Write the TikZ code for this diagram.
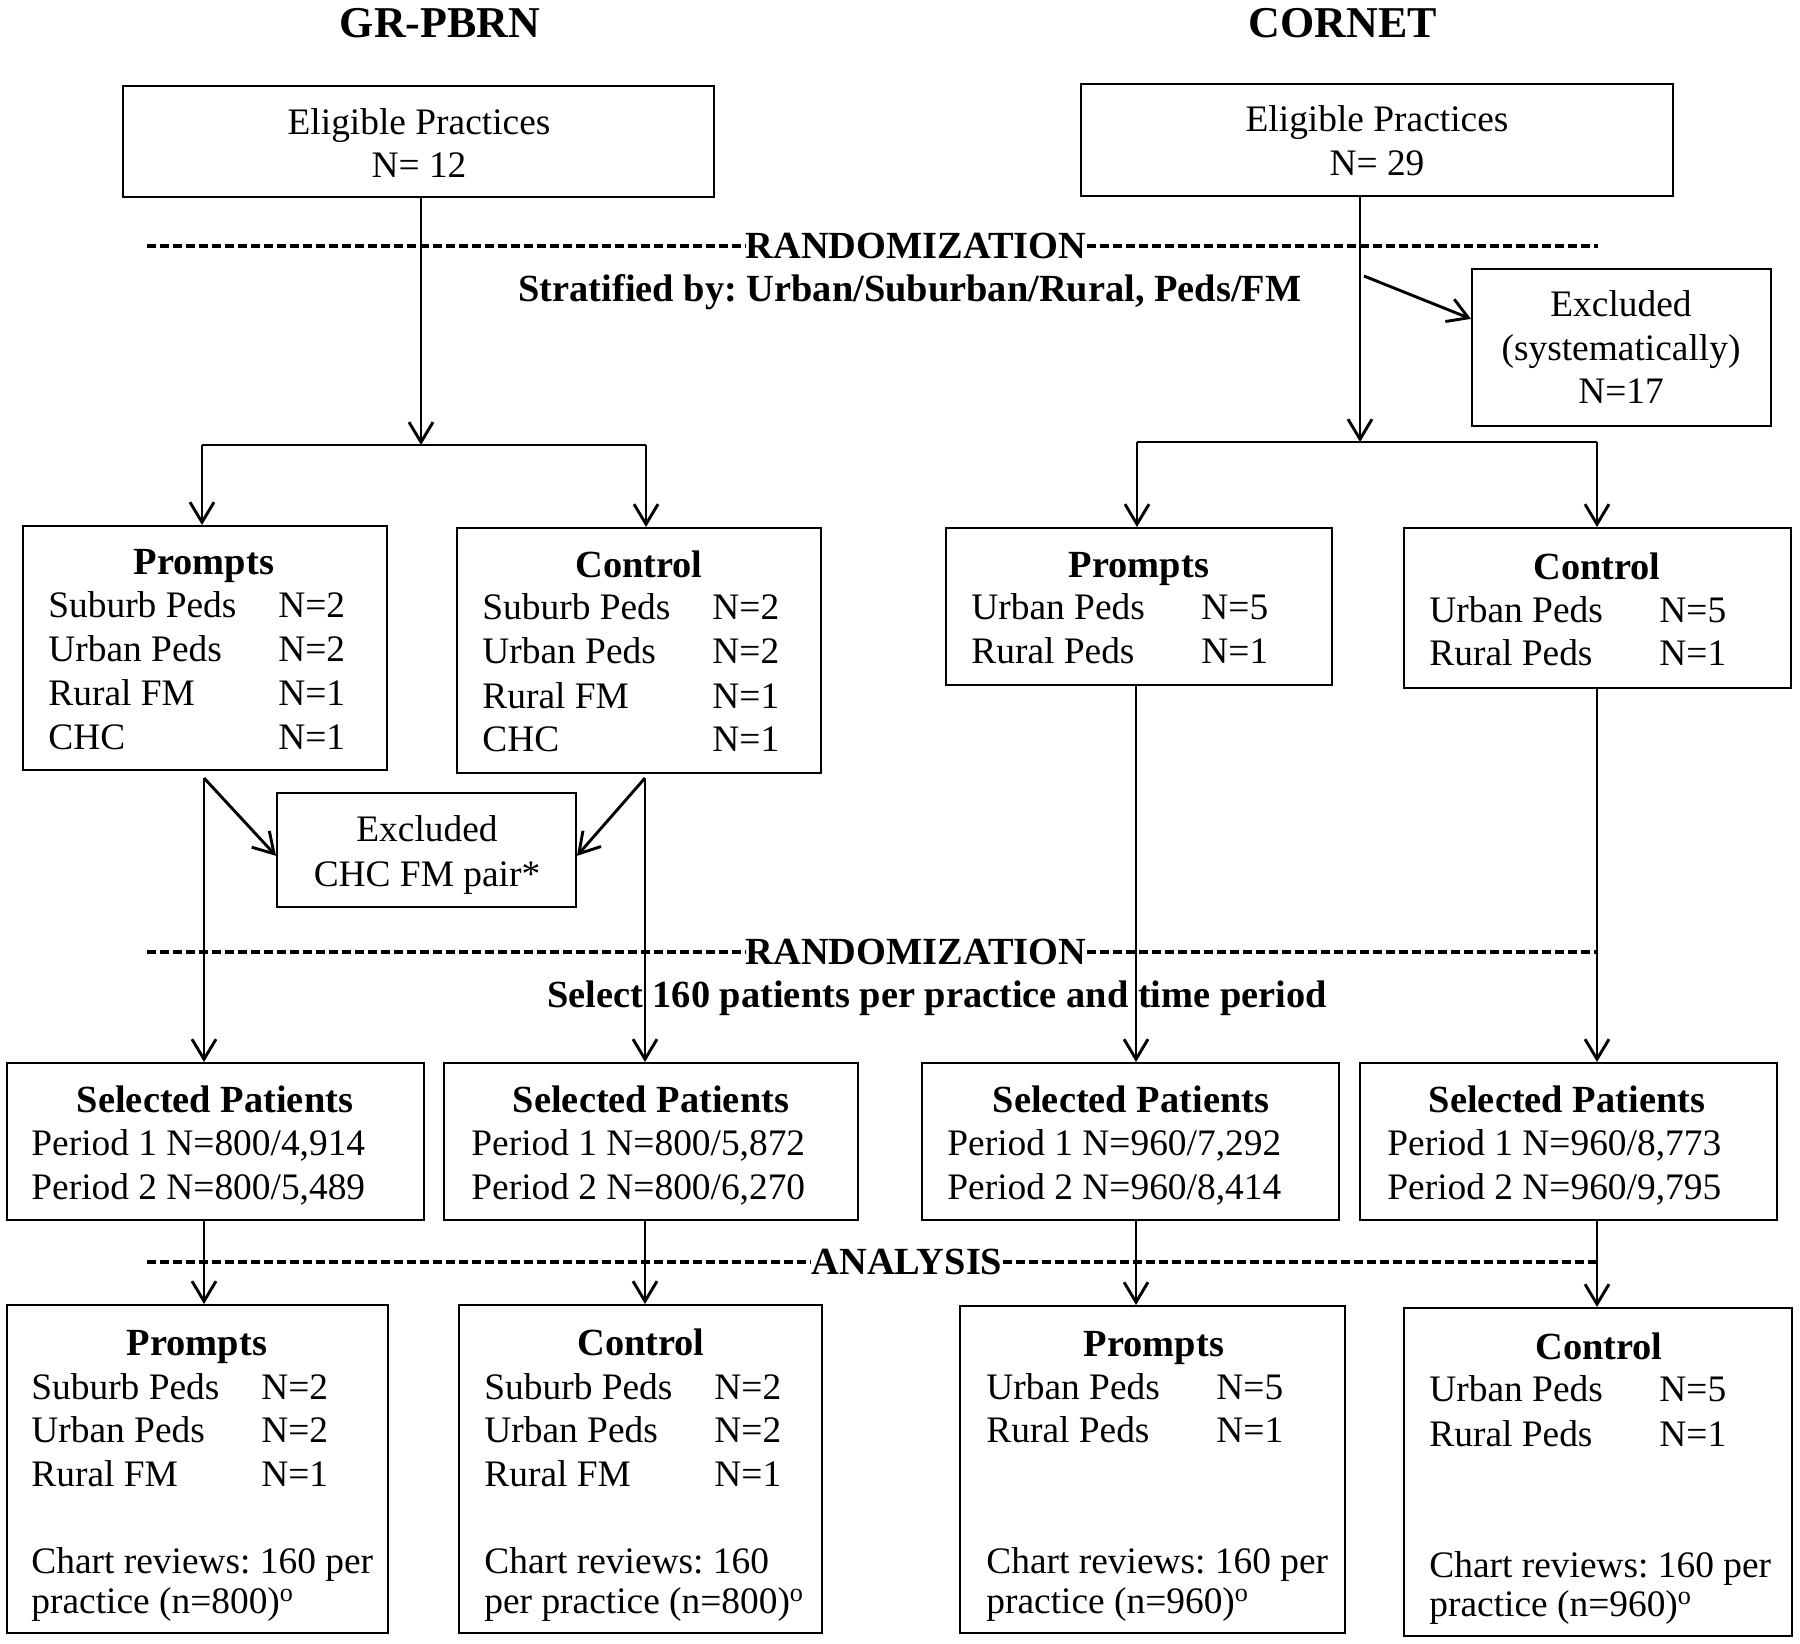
\documentclass[tikz,border=0pt]{standalone}
\usepackage{fontspec}
\setmainfont{Liberation Serif}
\usetikzlibrary{arrows.meta,fit,calc}
\frenchspacing
\begin{document}
\begin{tikzpicture}[x=0.5pt,y=-0.5pt,
  box/.style={draw, line width=1pt, inner sep=0pt},
  conn/.style={line width=1.45pt},
  arr/.style={conn, -{Straight Barb[length=10pt,width=12pt,line width=1.45pt]}},
  dl/.style={line width=1.6pt, dash pattern=on 4.5pt off 2pt},
  txt/.style={font=\fontsize{18.7pt}{22pt}\selectfont, inner sep=0pt, anchor=base, yshift=-6.3pt},
  ltxt/.style={txt, anchor=base west},
  btxt/.style={txt, font=\fontsize{19.2pt}{22pt}\selectfont\bfseries},
  ttl/.style={font=\fontsize{22pt}{26pt}\selectfont\bfseries, inner sep=0pt, anchor=base, yshift=-7.3pt},
]
\fill[white] (0,0) rectangle (1800,1644);
\useasboundingbox (0,0) rectangle (1800,1644);

% titles
\node[ttl] (t1) at (440,23) {GR-PBRN};
\node[ttl] (t2) at (1343,23) {CORNET};

% eligible
\node[box, fit={(123,86) (714,197)}] (e1) {};
\node[txt] (e1a) at (419,122) {Eligible Practices};
\node[txt] (e1b) at (419,165) {N= 12};
\node[box, fit={(1081,84) (1673,196)}] (e2) {};
\node[txt] (e2a) at (1377,119) {Eligible Practices};
\node[txt] (e2b) at (1377,163) {N= 29};

% randomization 1
\coordinate (d1a) at (147,246);
\coordinate (d1b) at (1598,246);
\node[btxt] (r1) at (916,246) {RANDOMIZATION};
\draw[dl] (d1a) -- (d1a -| r1.west);
\draw[dl] (d1b -| r1.east) -- (d1b);
\node[btxt] (s1t) at (910,289) {Stratified by: Urban/Suburban/Rural, Peds/FM};

% excluded systematically
\node[box, fit={(1472,269) (1771,426)}] (ex1) {};
\node[txt] (ex1a) at (1621,304) {Excluded};
\node[txt] (ex1b) at (1621,348) {(systematically)};
\node[txt] (ex1c) at (1621,391) {N=17};

% arm boxes
\node[box, fit={(23,526) (387,770)}] (p1) {};
\node[btxt] (p1h) at (204,562) {Prompts};
\node[ltxt] (p1a) at (48,605) {Suburb Peds};
\node[ltxt] (p1b) at (48,649) {Urban Peds};
\node[ltxt] (p1c) at (48,693) {Rural FM};
\node[ltxt] (p1d) at (48,737) {CHC};
\node[ltxt] (p1an) at (278,605) {N=2};
\node[ltxt] (p1bn) at (278,649) {N=2};
\node[ltxt] (p1cn) at (278,693) {N=1};
\node[ltxt] (p1dn) at (278,737) {N=1};

\node[box, fit={(457,528) (821,773)}] (c1) {};
\node[btxt] (c1h) at (639,565) {Control};
\node[ltxt] (c1a) at (482,607) {Suburb Peds};
\node[ltxt] (c1b) at (482,651) {Urban Peds};
\node[ltxt] (c1c) at (482,696) {Rural FM};
\node[ltxt] (c1d) at (482,739) {CHC};
\node[ltxt] (c1an) at (712,607) {N=2};
\node[ltxt] (c1bn) at (712,651) {N=2};
\node[ltxt] (c1cn) at (712,696) {N=1};
\node[ltxt] (c1dn) at (712,739) {N=1};

\node[box, fit={(946,528) (1332,685)}] (p2) {};
\node[btxt] (p2h) at (1139,565) {Prompts};
\node[ltxt] (p2a) at (971,607) {Urban Peds};
\node[ltxt] (p2b) at (971,651) {Rural Peds};
\node[ltxt] (p2an) at (1201,607) {N=5};
\node[ltxt] (p2bn) at (1201,651) {N=1};

\node[box, fit={(1404,528) (1791,688)}] (c2) {};
\node[btxt] (c2h) at (1597,567) {Control};
\node[ltxt] (c2a) at (1429,610) {Urban Peds};
\node[ltxt] (c2b) at (1429,653) {Rural Peds};
\node[ltxt] (c2an) at (1659,610) {N=5};
\node[ltxt] (c2bn) at (1659,653) {N=1};

% excluded CHC
\node[box, fit={(277,793) (576,907)}] (x2) {};
\node[txt] (x2a) at (427,829) {Excluded};
\node[txt] (x2b) at (427,874) {CHC FM pair*};

% randomization 2
\coordinate (d2a) at (147,952);
\coordinate (d2b) at (1596,952);
\node[btxt] (r2) at (916,952) {RANDOMIZATION};
\draw[dl] (d2a) -- (d2a -| r2.west);
\draw[dl] (d2b -| r2.east) -- (d2b);
\node[btxt] (s2t) at (937,995) {Select 160 patients per practice and time period};

% selected patients
\node[box, fit={(7,1063) (424,1220)}] (s1) {};
\node[btxt] (s1h) at (215,1100) {Selected Patients};
\node[ltxt] (s1a) at (31,1143) {Period 1 N=800/4,914};
\node[ltxt] (s1b) at (31,1187) {Period 2 N=800/5,489};

\node[box, fit={(444,1063) (858,1220)}] (s2) {};
\node[btxt] (s2h) at (651,1100) {Selected Patients};
\node[ltxt] (s2a) at (471,1143) {Period 1 N=800/5,872};
\node[ltxt] (s2b) at (471,1187) {Period 2 N=800/6,270};

\node[box, fit={(922,1063) (1339,1220)}] (s3) {};
\node[btxt] (s3h) at (1131,1100) {Selected Patients};
\node[ltxt] (s3a) at (947,1143) {Period 1 N=960/7,292};
\node[ltxt] (s3b) at (947,1187) {Period 2 N=960/8,414};

\node[box, fit={(1360,1063) (1777,1220)}] (s4) {};
\node[btxt] (s4h) at (1567,1100) {Selected Patients};
\node[ltxt] (s4a) at (1387,1143) {Period 1 N=960/8,773};
\node[ltxt] (s4b) at (1387,1187) {Period 2 N=960/9,795};

% analysis line
\coordinate (d3a) at (147,1262);
\coordinate (d3b) at (1597,1262);
\node[btxt] (r3) at (907,1262) {ANALYSIS};
\draw[dl] (d3a) -- (d3a -| r3.west);
\draw[dl] (d3b -| r3.east) -- (d3b);

% analysis boxes
\node[box, fit={(7,1305) (388,1633)}] (a1) {};
\node[btxt] (a1h) at (197,1343) {Prompts};
\node[ltxt] (a1a) at (31,1387) {Suburb Peds};
\node[ltxt] (a1b) at (31,1430) {Urban Peds};
\node[ltxt] (a1c) at (31,1474) {Rural FM};
\node[ltxt] (a1an) at (261,1387) {N=2};
\node[ltxt] (a1bn) at (261,1430) {N=2};
\node[ltxt] (a1cn) at (261,1474) {N=1};
\node[ltxt] (a1d) at (31,1561) {Chart reviews: 160 per};
\node[ltxt] (a1e) at (31,1601) {practice (n=800)\textsuperscript{o}};

\node[box, fit={(459,1305) (822,1633)}] (a2) {};
\node[btxt] (a2h) at (641,1343) {Control};
\node[ltxt] (a2a) at (484,1387) {Suburb Peds};
\node[ltxt] (a2b) at (484,1430) {Urban Peds};
\node[ltxt] (a2c) at (484,1474) {Rural FM};
\node[ltxt] (a2an) at (714,1387) {N=2};
\node[ltxt] (a2bn) at (714,1430) {N=2};
\node[ltxt] (a2cn) at (714,1474) {N=1};
\node[ltxt] (a2d) at (484,1561) {Chart reviews: 160};
\node[ltxt] (a2e) at (484,1601) {per practice (n=800)\textsuperscript{o}};

\node[box, fit={(960,1306) (1345,1633)}] (a3) {};
\node[btxt] (a3h) at (1154,1344) {Prompts};
\node[ltxt] (a3a) at (986,1387) {Urban Peds};
\node[ltxt] (a3b) at (986,1430) {Rural Peds};
\node[ltxt] (a3an) at (1216,1387) {N=5};
\node[ltxt] (a3bn) at (1216,1430) {N=1};
\node[ltxt] (a3d) at (986,1561) {Chart reviews: 160 per};
\node[ltxt] (a3e) at (986,1601) {practice (n=960)\textsuperscript{o}};

\node[box, fit={(1404,1308) (1792,1636)}] (a4) {};
\node[btxt] (a4h) at (1599,1347) {Control};
\node[ltxt] (a4a) at (1429,1389) {Urban Peds};
\node[ltxt] (a4b) at (1429,1434) {Rural Peds};
\node[ltxt] (a4an) at (1659,1389) {N=5};
\node[ltxt] (a4bn) at (1659,1434) {N=1};
\node[ltxt] (a4d) at (1429,1565) {Chart reviews: 160 per};
\node[ltxt] (a4e) at (1429,1604) {practice (n=960)\textsuperscript{o}};

% ---- connectors ----
% GR-PBRN top
\coordinate (b1m) at (421,445);
\coordinate (b1l) at (202,445);
\coordinate (b1r) at (646,445);
\draw[arr] (b1m |- e1.south) -- (b1m);
\draw[conn] (b1l) -- (b1r);
\draw[arr] (b1l) -- (b1l |- p1.north);
\draw[arr] (b1r) -- (b1r |- c1.north);

% CORNET top
\coordinate (b2m) at (1360,442);
\coordinate (b2l) at (1137,442);
\coordinate (b2r) at (1597,442);
\draw[arr] (b2m |- e2.south) -- (b2m);
\draw[conn] (b2l) -- (b2r);
\draw[arr] (b2l) -- (b2l |- p2.north);
\draw[arr] (b2r) -- (b2r |- c2.north);
\coordinate (x1s) at (1364,276);
\draw[arr] (x1s) -- ($(ex1.north west)!0.32!(ex1.south west)$);

% arms to selected
\coordinate (p1o) at (204,778);
\coordinate (c1o) at (645,778);
\draw[arr] (p1o) -- (p1o |- s1.north);
\draw[arr] (p1o) -- ($(x2.north west)!0.55!(x2.south west)$);
\draw[arr] (c1o) -- (c1o |- s2.north);
\draw[arr] (c1o) -- ($(x2.north east)!0.55!(x2.south east)$);
\coordinate (p2o) at (1136,685);
\coordinate (c2o) at (1597,688);
\draw[arr] (p2o) -- (p2o |- s3.north);
\draw[arr] (c2o) -- (c2o |- s4.north);

% selected to analysis
\coordinate (q1) at (204,1220);
\coordinate (q2) at (645,1220);
\coordinate (q3) at (1136,1220);
\coordinate (q4) at (1597,1220);
\draw[arr] (q1 |- s1.south) -- (q1 |- a1.north);
\draw[arr] (q2 |- s2.south) -- (q2 |- a2.north);
\draw[arr] (q3 |- s3.south) -- (q3 |- a3.north);
\draw[arr] (q4 |- s4.south) -- (q4 |- a4.north);
\end{tikzpicture}
\end{document}
